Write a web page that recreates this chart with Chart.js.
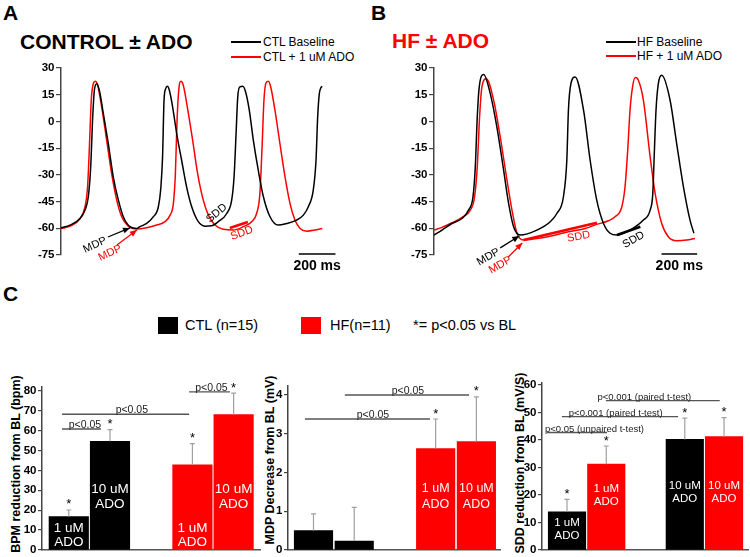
<!DOCTYPE html>
<html lang="en">
<head>
<meta charset="UTF-8">
<title>Adenosine and SAN action potentials</title>
<script src="https://cdn.jsdelivr.net/npm/chart.js"></script>
<style>
    body { margin: 0; background: #fff; }
    #fig {
        position: relative;
        width: 750px;
        height: 557px;
        overflow: hidden;
        font-family: Arial, "Liberation Sans", sans-serif;
        color: #000;
    }
    #fig canvas { position: absolute; left: 0; top: 0; }
    .txt { position: absolute; white-space: nowrap; line-height: 1; }
    .panel { font-size: 21px; font-weight: bold; }
    .leg { font-size: 12px; }
    .legline { position: absolute; width: 30px; height: 1.5px; }
    .sq { position: absolute; width: 20px; height: 17px; }
    .cleg { font-size: 14.5px; }
    .ytitle {
        position: absolute;
        font-size: 12.5px;
        font-weight: bold;
        white-space: nowrap;
        line-height: 1;
        transform: translate(-50%, -50%) rotate(-90deg);
    }
</style>
</head>
<body>
<div id="fig">
    <div class="txt panel" style="left:3px; top:2px;">A</div>
    <div class="txt panel" style="left:20px; top:31px;">CONTROL ± ADO</div>
    <div class="legline" style="left:231px; top:41px; background:#000;"></div>
    <div class="legline" style="left:231px; top:56px; background:#f00;"></div>
    <div class="txt leg" style="left:263px; top:36px;">CTL Baseline</div>
    <div class="txt leg" style="left:263px; top:51px;">CTL + 1 uM ADO</div>

    <div class="txt panel" style="left:371px; top:2px;">B</div>
    <div class="txt panel" style="left:392px; top:30px; color:#f00;">HF ± ADO</div>
    <div class="legline" style="left:606px; top:41px; background:#000;"></div>
    <div class="legline" style="left:606px; top:55px; background:#f00;"></div>
    <div class="txt leg" style="left:637px; top:36px;">HF Baseline</div>
    <div class="txt leg" style="left:637px; top:50px;">HF + 1 uM ADO</div>

    <div class="txt panel" style="left:3px; top:283px;">C</div>
    <div class="sq" style="left:158px; top:317px; background:#000;"></div>
    <div class="txt cleg" style="left:185px; top:318px;">CTL (n=15)</div>
    <div class="sq" style="left:301px; top:317px; background:#f00;"></div>
    <div class="txt cleg" style="left:330px; top:318px;">HF(n=11)</div>
    <div class="txt cleg" style="left:413px; top:318px;">*= p&lt;0.05 vs BL</div>

    <div class="ytitle" style="left:16px; top:464px;">BPM reduction from BL (bpm)</div>
    <div class="ytitle" style="left:270px; top:460px;">MDP Decrease from BL (mV)</div>
    <div class="ytitle" style="left:520px; top:463px;">SDD reduction from BL (mV/S)</div>

    <canvas id="ctlTrace" width="750" height="557"></canvas>
    <canvas id="hfTrace" width="750" height="557"></canvas>
    <canvas id="bpmChart" width="750" height="557"></canvas>
    <canvas id="mdpChart" width="750" height="557"></canvas>
    <canvas id="sddChart" width="750" height="557"></canvas>
</div>

<script>
    const RED = '#ff0000';
    const BLACK = '#000000';

    // action potential traces, time in ms, membrane potential in mV
    const ctlBaseTime = [0, 49, 104, 131, 149, 162, 173, 182, 195, 209, 231, 258, 285, 313, 340, 376, 413, 431, 467, 504,
        531, 545, 554, 562, 571, 580, 591, 609, 631, 658, 685, 713, 749, 785, 822, 858, 904, 931, 944, 955,
        964, 976, 991, 1007, 1027, 1049, 1076, 1104, 1140, 1185, 1231, 1285, 1322, 1349, 1376, 1391, 1400, 1409, 1418, 1425];
    const ctlBaseMv = [-59.7, -58.2, -54.5, -49.8, -42.3, -25.5, 2.5, 17.5, 21.2, 17.5, 4.4, -12.4, -31.1, -44.2, -53.5, -59.1, -60.1, -59.1, -57.3, -53.5,
        -47.9, -36.7, -19.9, 11.9, 18.4, 19.7, 17.5, 8.1, -6.8, -21.8, -36.7, -47.9, -56.3, -58.8, -58.6, -56.3, -51.7, -44.2, -31.1, -6.8,
        13.7, 19.4, 19.7, 16.5, 6.3, -10.5, -27.4, -42.3, -53.5, -58.2, -57.3, -55.4, -52.6, -47.9, -38.6, -21.8, 2.5, 15.6, 19, 19.7];

    const ctlAdoTime = [0, 49, 104, 131, 145, 155, 165, 176, 187, 200, 222, 249, 276, 304, 331, 367, 413, 467, 522, 567,
        595, 613, 624, 633, 644, 654, 667, 689, 718, 745, 776, 804, 840, 885, 940, 994, 1040, 1067, 1085, 1096,
        1107, 1118, 1131, 1144, 1167, 1194, 1222, 1249, 1276, 1304, 1340, 1385, 1425];
    const ctlAdoMv = [-60.2, -58.8, -54.5, -47.9, -36.7, -14.3, 11.9, 21.2, 22.5, 20.3, 8.1, -10.5, -29.2, -44.2, -53.5, -58.8, -60.4, -59.7, -58.2, -56.3,
        -52.6, -46, -29.2, 0.7, 19.3, 22.5, 20.3, 8.1, -10.5, -29.2, -44.2, -52.6, -58.2, -60.6, -61, -59.1, -56.3, -51.7, -40.4, -16.2,
        11.9, 21.6, 22.5, 19.3, 6.3, -12.4, -31.1, -46, -55.4, -60.1, -61.6, -61, -60.1];

    const hfBaseTime = [0, 45, 101, 157, 194, 219, 232, 243, 254, 279, 316, 353, 391, 419, 447, 484, 578, 653, 690, 727,
        746, 755, 769, 793, 840, 877, 914, 952, 989, 1027, 1101, 1176, 1214, 1229, 1236, 1247, 1260, 1279, 1326, 1363,
        1401, 1438, 1460];
    const hfBaseMv = [-63.8, -61, -57.3, -54.5, -49.8, -42.3, -25.5, 2.5, 19.3, 26.4, 15.6, -3.1, -27.4, -46, -59.1, -63.8, -61, -56.3, -51.7, -42.3,
        -21.8, 6.3, 21.2, 25, 6.3, -21.8, -44.2, -57.3, -62.8, -63.8, -61, -55.4, -49.8, -40.4, -21.8, 6.3, 21.2, 25.9, 11.9, -12.4,
        -36.7, -55.4, -62.8];

    const hfAdoTime = [0, 45, 101, 157, 204, 228, 243, 256, 269, 294, 335, 372, 410, 438, 466, 503, 568, 671, 755, 849,
        914, 980, 1017, 1055, 1073, 1088, 1101, 1115, 1130, 1148, 1176, 1214, 1242, 1279, 1316, 1363, 1419, 1466];
    const hfAdoMv = [-61, -59.5, -56.9, -53.9, -49.8, -42.3, -25.5, 2.5, 19.3, 24, 11.9, -8.7, -33, -49.8, -62.8, -66.6, -65.9, -64, -61.9, -60.1,
        -57.8, -55.8, -53.5, -47.9, -36.7, -16.2, 6.3, 19.3, 24.6, 23.1, 11.9, -19.9, -40.4, -57.3, -64.7, -67, -66.6, -65.7];

    const apTicks = [-75, -60, -45, -30, -15, 0, 15, 30];

    // panel C, one empty slot separates the two pairs
    const bpmSlots = ['CTL 1 uM', 'CTL 10 uM', '', 'HF 1 uM', 'HF 10 uM'];
    const bpmValues = [16.8, 54.6, null, 42.8, 68.0];
    const bpmErrors = [3.3, 5.9, null, 10.6, 10.8];
    const bpmStars = [true, true, false, true, true];
    const bpmBarText = [['1 uM', 'ADO'], ['10 uM', 'ADO'], [], ['1 uM', 'ADO'], ['10 uM', 'ADO']];
    const bpmTicks = [0, 10, 20, 30, 40, 50, 60, 70, 80];

    const mdpSlots = ['CTL 1 uM', 'CTL 10 uM', '', 'HF 1 uM', 'HF 10 uM'];
    const mdpValues = [0.50, 0.23, null, 2.62, 2.80];
    const mdpErrors = [0.43, 0.87, null, 0.76, 1.15];
    const mdpStars = [false, false, false, true, true];
    const mdpBarText = [[], [], [], ['1 uM', 'ADO'], ['10 uM', 'ADO']];
    const mdpTicks = [0, 1, 2, 3, 4];

    const sddSlots = ['CTL 1 uM', 'HF 1 uM', '', 'CTL 10 uM', 'HF 10 uM'];
    const sddValues = [13.9, 31.2, null, 40.2, 41.2];
    const sddErrors = [4.5, 6.6, null, 7.7, 6.9];
    const sddStars = [true, true, false, true, true];
    const sddBarText = [['1 uM', 'ADO'], ['1 uM', 'ADO'], [], ['10 uM', 'ADO'], ['10 uM', 'ADO']];
    const sddTicks = [0, 10, 20, 30, 40, 50, 60];

    Chart.defaults.font.family = 'Arial, "Liberation Sans", sans-serif';
    Chart.defaults.color = '#000';

    // padding so that the plot area lands on the given box of the page
    function areaPadding(left, top, right, bottom, axisWidth) {
        return { left: left - axisWidth, top: top, right: 750 - right, bottom: 557 - bottom };
    }

    function yAxis(ticks, min, max, width, tickLength) {
        return {
            min: min,
            max: max,
            afterBuildTicks: s => { s.ticks = ticks.map(v => ({ value: v })); },
            afterFit: s => { s.width = width; s.paddingTop = 0; s.paddingBottom = 0; },
            ticks: { font: { size: 11.5, weight: 'bold' }, padding: 1.5, color: '#000' },
            grid: { drawOnChartArea: false, tickLength: tickLength, color: '#444', lineWidth: 1.2 },
            border: { color: '#444', width: 1.5 }
        };
    }

    function arrowHead(ctx, x0, y0, x1, y1) {
        const a = Math.atan2(y1 - y0, x1 - x0);
        ctx.beginPath();
        ctx.moveTo(x1, y1);
        ctx.lineTo(x1 - 7 * Math.cos(a) + 3 * Math.sin(a), y1 - 7 * Math.sin(a) - 3 * Math.cos(a));
        ctx.lineTo(x1 - 7 * Math.cos(a) - 3 * Math.sin(a), y1 - 7 * Math.sin(a) + 3 * Math.cos(a));
        ctx.closePath();
        ctx.fill();
    }

    // MDP arrows, SDD marks and the 200 ms scale bar
    function traceNotes(cfg) {
        return {
            id: 'traceNotes',
            afterDatasetsDraw(chart) {
                const ctx = chart.ctx;
                const px = t => chart.scales.x.getPixelForValue(t);
                const py = v => chart.scales.y.getPixelForValue(v);
                ctx.save();
                cfg.segments.forEach(s => {
                    ctx.strokeStyle = s.color;
                    ctx.lineWidth = 2.6;
                    ctx.beginPath();
                    ctx.moveTo(px(s.from[0]), py(s.from[1]));
                    ctx.lineTo(px(s.to[0]), py(s.to[1]));
                    ctx.stroke();
                });
                cfg.arrows.forEach(a => {
                    const x0 = px(a.from[0]), y0 = py(a.from[1]), x1 = px(a.to[0]), y1 = py(a.to[1]);
                    ctx.strokeStyle = a.color;
                    ctx.fillStyle = a.color;
                    ctx.lineWidth = 1.3;
                    ctx.beginPath();
                    ctx.moveTo(x0, y0);
                    ctx.lineTo(x1, y1);
                    ctx.stroke();
                    arrowHead(ctx, x0, y0, x1, y1);
                });
                ctx.font = '11px Arial, "Liberation Sans", sans-serif';
                ctx.textAlign = 'center';
                ctx.textBaseline = 'middle';
                cfg.labels.forEach(l => {
                    ctx.save();
                    ctx.translate(px(l.at[0]), py(l.at[1]));
                    ctx.rotate(l.rot * Math.PI / 180);
                    ctx.fillStyle = l.color;
                    ctx.fillText(l.text, 0, 0);
                    ctx.restore();
                });
                const x0 = px(cfg.bar), x1 = px(cfg.bar + 200);
                const yb = chart.chartArea.bottom - 1;
                ctx.strokeStyle = '#000';
                ctx.lineWidth = 1.5;
                ctx.beginPath();
                ctx.moveTo(x0, yb);
                ctx.lineTo(x1, yb);
                ctx.stroke();
                ctx.fillStyle = '#000';
                ctx.font = 'bold 14px Arial, "Liberation Sans", sans-serif';
                ctx.textBaseline = 'alphabetic';
                ctx.fillText('200 ms', (x0 + x1) / 2, yb + 16);
                ctx.restore();
            }
        };
    }

    function makeTrace(id, box, xMax, base, ado, notes) {
        return new Chart(document.getElementById(id), {
            type: 'line',
            data: {
                datasets: [
                    { data: base[0].map((t, i) => ({ x: t, y: base[1][i] })), borderColor: BLACK },
                    { data: ado[0].map((t, i) => ({ x: t, y: ado[1][i] })), borderColor: RED }
                ]
            },
            options: {
                responsive: false,
                animation: false,
                events: [],
                layout: { padding: areaPadding(box[0], box[1], box[2], box[3], 50) },
                elements: {
                    point: { radius: 0 },
                    line: { borderWidth: 1.5, cubicInterpolationMode: 'monotone', fill: false }
                },
                scales: {
                    x: { type: 'linear', min: 0, max: xMax, display: false },
                    y: yAxis(apTicks, -75, 30, 50, 5)
                },
                plugins: { legend: { display: false }, tooltip: { enabled: false } }
            },
            plugins: [traceNotes(notes)]
        });
    }

    makeTrace('ctlTrace', [61, 68, 336, 255], 1500, [ctlBaseTime, ctlBaseMv], [ctlAdoTime, ctlAdoMv], {
        bar: 1297,
        segments: [{ from: [921, -59.8], to: [1019, -56.5], color: RED }],
        arrows: [
            { from: [256, -64.9], to: [376, -59.8], color: BLACK },
            { from: [305, -69.4], to: [414, -61.0], color: RED }
        ],
        labels: [
            { text: 'MDP', at: [185, -69.4], rot: -25, color: BLACK },
            { text: 'MDP', at: [267, -73.9], rot: -25, color: RED },
            { text: 'SDD', at: [849, -51.6], rot: -40, color: BLACK },
            { text: 'SDD', at: [986, -62.8], rot: -20, color: RED }
        ]
    });

    makeTrace('hfTrace', [434, 68, 697.5, 255], 1480, [hfBaseTime, hfBaseMv], [hfAdoTime, hfAdoMv], {
        bar: 1278,
        segments: [
            { from: [503, -66.6], to: [915, -56.9], color: RED },
            { from: [1028, -63.8], to: [1159, -59.1], color: BLACK }
        ],
        arrows: [
            { from: [372, -71.0], to: [479, -64.3], color: BLACK },
            { from: [417, -76.1], to: [496, -68.3], color: RED }
        ],
        labels: [
            { text: 'MDP', at: [305, -76.1], rot: -30, color: BLACK },
            { text: 'MDP', at: [372, -80.6], rot: -30, color: RED },
            { text: 'SDD', at: [812, -64.7], rot: -10, color: RED },
            { text: 'SDD', at: [1121, -66.5], rot: -30, color: BLACK }
        ]
    });

    // error bars, stars, labels inside bars and p-value brackets
    function barNotes(cfg) {
        return {
            id: 'barNotes',
            afterDatasetsDraw(chart) {
                const ctx = chart.ctx;
                const xs = chart.scales.x, ys = chart.scales.y;
                const fam = 'Arial, "Liberation Sans", sans-serif';
                ctx.save();
                ctx.textAlign = 'center';
                ctx.textBaseline = 'alphabetic';
                cfg.values.forEach((v, i) => {
                    if (v === null) return;
                    const x = xs.getPixelForValue(i);
                    const yBar = ys.getPixelForValue(v);
                    const yErr = ys.getPixelForValue(v + cfg.errors[i]);
                    ctx.strokeStyle = '#a0a0a0';
                    ctx.lineWidth = 1.2;
                    ctx.beginPath();
                    ctx.moveTo(x, yBar);
                    ctx.lineTo(x, yErr);
                    ctx.moveTo(x - 2.5, yErr);
                    ctx.lineTo(x + 2.5, yErr);
                    ctx.stroke();
                    if (cfg.stars[i]) {
                        ctx.fillStyle = '#000';
                        ctx.font = '13px ' + fam;
                        ctx.fillText('*', x, yErr - 1.5);
                    }
                    const lines = cfg.text[i];
                    if (lines.length) {
                        ctx.fillStyle = '#fff';
                        ctx.font = cfg.textSize + 'px ' + fam;
                        const y0 = ys.getPixelForValue(cfg.textAt[i]);
                        lines.forEach((t, k) => ctx.fillText(t, x, y0 + k * cfg.textGap + cfg.textSize * 0.36));
                    }
                });
                const slot = s => xs.getPixelForValue(s);
                cfg.brackets.forEach(b => {
                    const y = ys.getPixelForValue(b.at);
                    ctx.strokeStyle = '#555';
                    ctx.lineWidth = 1.3;
                    ctx.beginPath();
                    ctx.moveTo(slot(b.from), y);
                    ctx.lineTo(slot(b.to), y);
                    ctx.stroke();
                    ctx.fillStyle = '#222';
                    ctx.font = cfg.pSize + 'px ' + fam;
                    ctx.fillText(b.text, slot(b.textAt), y - 1);
                });
                ctx.restore();
            }
        };
    }

    function makeBars(id, box, slots, values, ticks, yMax, xMin, xMax, thickness, notes) {
        return new Chart(document.getElementById(id), {
            type: 'bar',
            data: {
                datasets: [{
                    data: slots.map((s, i) => ({ x: i, y: values[i] })),
                    backgroundColor: slots.map(s => s.startsWith('HF') ? RED : BLACK),
                    borderWidth: 0,
                    barThickness: thickness
                }]
            },
            options: {
                responsive: false,
                animation: false,
                events: [],
                layout: { padding: areaPadding(box[0], box[1], box[2], box[3], 40) },
                scales: {
                    x: {
                        type: 'linear',
                        min: xMin,
                        max: xMax,
                        offset: false,
                        ticks: { display: false },
                        grid: { display: false },
                        border: { color: '#555', width: 1.5 },
                        afterFit: s => { s.height = 0; s.paddingLeft = 0; s.paddingRight = 0; }
                    },
                    y: yAxis(ticks, 0, yMax, 40, 4)
                },
                plugins: { legend: { display: false }, tooltip: { enabled: false } }
            },
            plugins: [barNotes(Object.assign({ values: values }, notes))]
        });
    }

    makeBars('bpmChart', [42, 386.8, 260, 550], bpmSlots, bpmValues, bpmTicks, 82, -0.65, 4.64, 39.5, {
        errors: bpmErrors,
        stars: bpmStars,
        text: bpmBarText,
        textAt: [11.7, 31, null, 11.7, 31],
        textSize: 13.5,
        textGap: 14.5,
        pSize: 10.5,
        brackets: [
            { from: -0.165, to: 2.92, at: 68.2, text: 'p<0.05', textAt: 1.53 },
            { from: -0.165, to: 0.78, at: 60.8, text: 'p<0.05', textAt: 0.39 },
            { from: 2.92, to: 3.91, at: 79.4, text: 'p<0.05', textAt: 3.46 }
        ]
    });

    makeBars('mdpChart', [288, 385.3, 500, 550], mdpSlots, mdpValues, mdpTicks, 4.25, -0.626, 4.58, 38.5, {
        errors: mdpErrors,
        stars: mdpStars,
        text: mdpBarText,
        textAt: [null, null, null, 1.6, 1.6],
        textSize: 12.5,
        textGap: 15.5,
        pSize: 10.5,
        brackets: [
            { from: -0.21, to: 2.86, at: 3.38, text: 'p<0.05', textAt: 1.46 },
            { from: 0.77, to: 3.82, at: 4.0, text: 'p<0.05', textAt: 2.32 }
        ]
    });

    makeBars('sddChart', [542, 383, 748, 550], sddSlots, sddValues, sddTicks, 60.7, -0.637, 4.61, 37.5, {
        errors: sddErrors,
        stars: sddStars,
        text: sddBarText,
        textAt: [10.3, 22.5, null, 23.6, 23.6],
        textSize: 11.5,
        textGap: 12.8,
        pSize: 9.5,
        brackets: [
            { from: -0.51, to: 1.02, at: 42.7, text: 'p<0.05 (unpaired t-test)', textAt: 0.70 },
            { from: -0.13, to: 2.83, at: 48.5, text: 'p<0.001 (paired t-test)', textAt: 1.24 },
            { from: 0.99, to: 3.89, at: 54.3, text: 'p<0.001 (paired t-test)', textAt: 1.97 }
        ]
    });
</script>
</body>
</html>
